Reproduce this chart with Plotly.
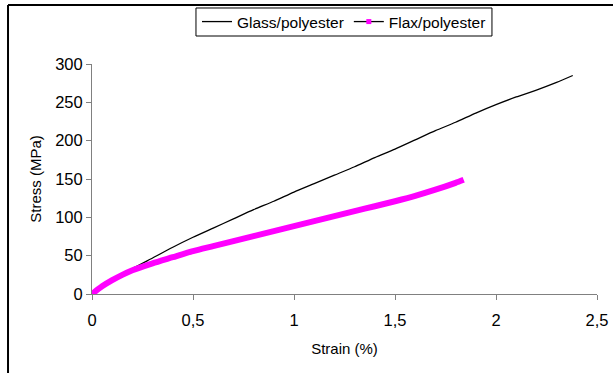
import plotly.graph_objects as go

glass_strain = [0, 0.05, 0.1, 0.15, 0.2, 0.3, 0.4, 0.5, 0.6, 0.7, 0.8, 0.9, 1.0, 1.1, 1.2, 1.3,
                1.4, 1.5, 1.6, 1.7, 1.8, 1.9, 2.0, 2.1, 2.2, 2.3, 2.38]
glass_stress = [0, 9, 17, 25, 33, 47, 61, 74, 86, 98, 110, 121, 133, 144, 155, 166,
                178, 189, 201, 213, 224, 236, 247, 257, 266, 276, 285]

flax_strain = [0, 0.05, 0.1, 0.15, 0.2, 0.3, 0.4, 0.5, 0.6, 0.7, 0.8, 0.9, 1.0, 1.1, 1.2, 1.3,
               1.4, 1.5, 1.6, 1.7, 1.8, 1.84]
flax_stress = [0, 10, 18, 25, 31, 40, 48, 56, 62.5, 69, 75.5, 82, 88.5, 95, 101.5, 108,
               114.5, 121, 128, 136, 145, 149]

x_ticks = [0, 0.5, 1, 1.5, 2, 2.5]
x_tick_labels = ["0", "0,5", "1", "1,5", "2", "2,5"]
y_ticks = [0, 50, 100, 150, 200, 250, 300]
y_tick_labels = ["0", "50", "100", "150", "200", "250", "300"]

FONT = "Liberation Sans, Arial, sans-serif"

fig = go.Figure()
fig.add_trace(go.Scatter(x=glass_strain, y=glass_stress, mode="lines", name="Glass/polyester",
                         line=dict(color="black", width=1.3, shape="spline", smoothing=0.6)))
fig.add_trace(go.Scatter(x=flax_strain, y=flax_stress, mode="lines", name="Flax/polyester",
                         line=dict(color="#FF00FF", width=6, shape="spline", smoothing=0.6),
                         showlegend=False))
fig.add_trace(go.Scatter(x=[-1], y=[-1], mode="lines+markers", name="Flax/polyester",
                         line=dict(color="black", width=1.3),
                         marker=dict(color="#FF00FF", symbol="square", size=5,
                                     line=dict(width=0))))

axis_common = dict(showgrid=False, zeroline=False, showline=True, linecolor="#808080", linewidth=1,
                   ticks="outside", ticklen=5, tickcolor="#808080", automargin=False,
                   tickfont=dict(family=FONT, size=16.5, color="black"))

fig.update_layout(
    width=613, height=373,
    margin=dict(l=92, r=16, t=64, b=79, autoexpand=False),
    paper_bgcolor="white", plot_bgcolor="white",
    font=dict(family=FONT, size=15, color="black"),
    xaxis=dict(range=[0, 2.5], tickvals=x_ticks, ticktext=x_tick_labels, ticklabelstandoff=6,
               title=dict(text="Strain (%)", font=dict(family=FONT, size=15), standoff=15),
               **axis_common),
    yaxis=dict(range=[0, 300], tickvals=y_ticks, ticktext=y_tick_labels,
               title=dict(text="Stress (MPa)", font=dict(family=FONT, size=15), standoff=9),
               **axis_common),
    legend=dict(orientation="h", xref="container", yref="container",
                x=344 / 613, xanchor="center", y=1 - 22 / 373, yanchor="middle",
                borderwidth=0, bgcolor="rgba(0,0,0,0)",
                font=dict(family=FONT, size=15.5), itemwidth=30, tracegroupgap=0),
    showlegend=True,
)

fig.add_shape(type="rect", xref="paper", yref="paper", x0=0.2059, x1=0.792, y0=1.1217, y1=1.2435,
              line=dict(color="black", width=1), fillcolor="rgba(0,0,0,0)")
fig.add_shape(type="line", xref="paper", yref="paper", x0=-0.1663, x1=1.1, y0=1.2565, y1=1.2565,
              line=dict(color="black", width=2))
fig.add_shape(type="line", xref="paper", yref="paper", x0=-0.1663, x1=-0.1663, y0=-0.4, y1=1.2565,
              line=dict(color="black", width=2))

fig.write_html("out.html")
